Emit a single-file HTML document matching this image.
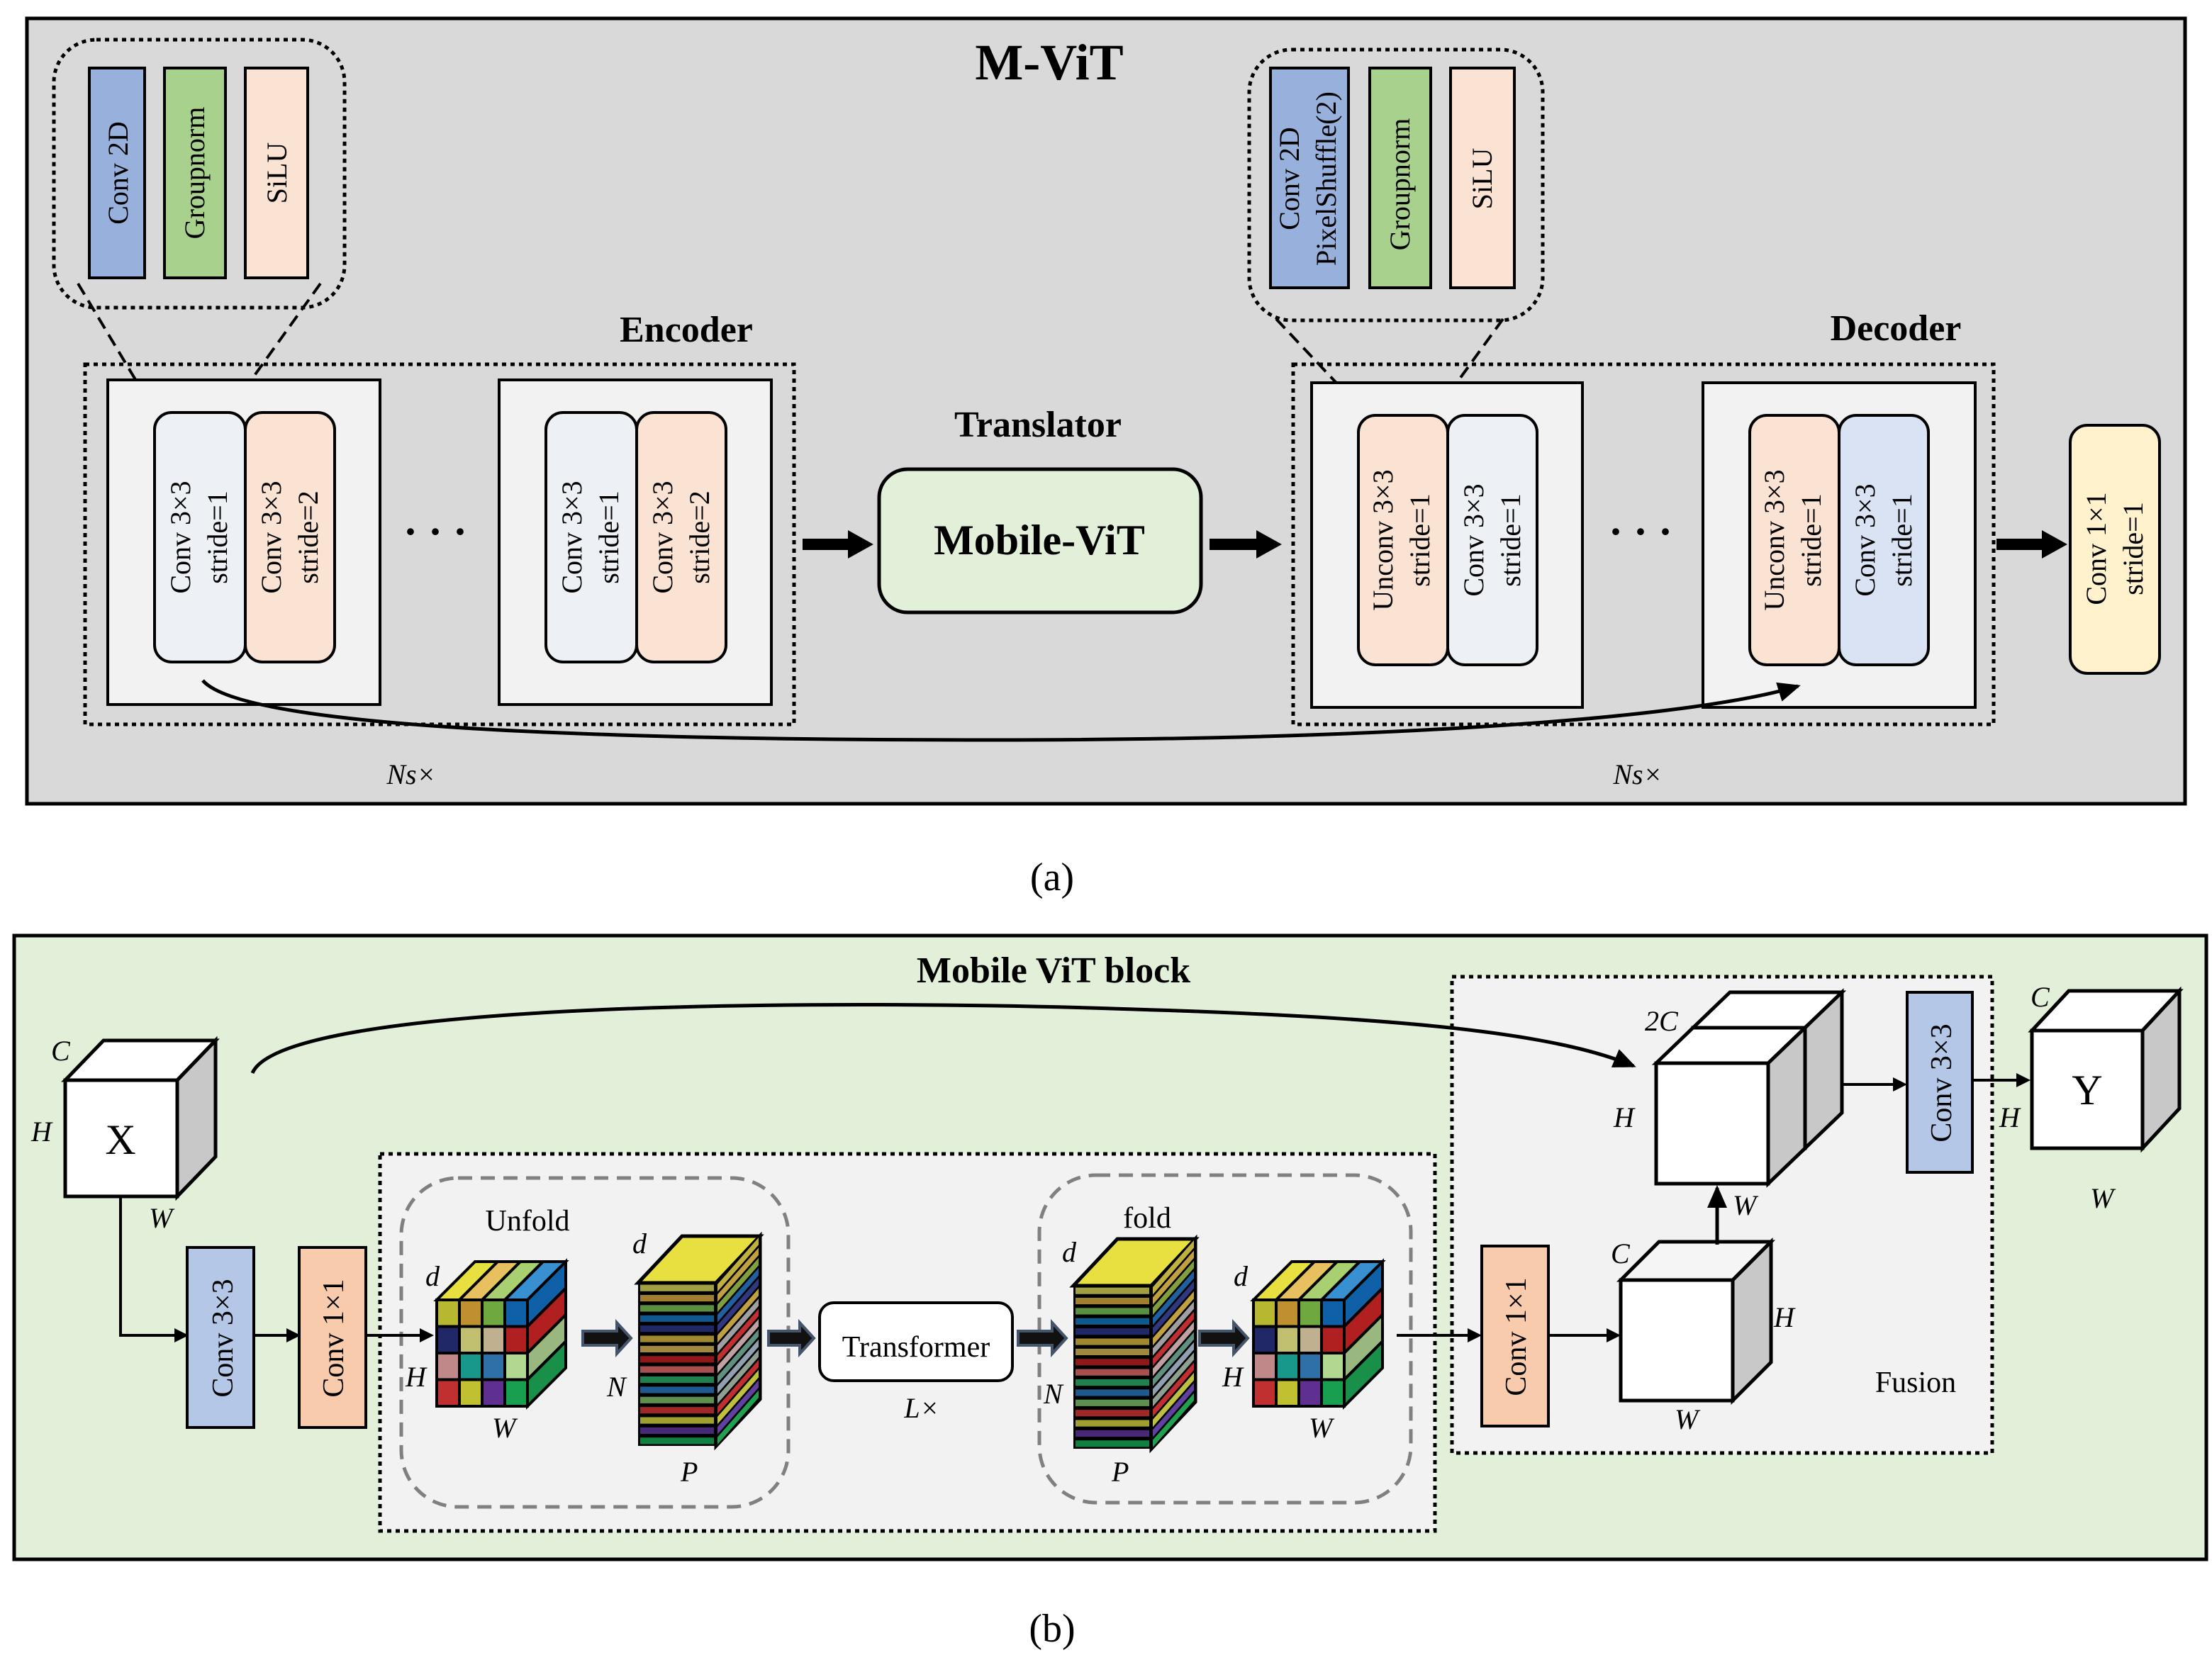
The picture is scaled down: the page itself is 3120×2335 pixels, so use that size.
<!DOCTYPE html>
<html><head><meta charset="utf-8"><style>
html,body{margin:0;padding:0;background:#fff}
svg{display:block}
text{font-family:"Liberation Serif",serif;fill:#000}
.b{font-weight:bold}
.i{font-style:italic}
</style></head><body>
<svg id="s" width="3120" height="2335" viewBox="0 0 1560 1167.5" xmlns="http://www.w3.org/2000/svg">
<defs>
<marker id="ah" markerWidth="10" markerHeight="10" refX="8" refY="5" orient="auto" markerUnits="userSpaceOnUse"><path d="M0,0 L10,5 L0,10 z" fill="#000"/></marker>
<marker id="ah2" markerWidth="16" markerHeight="14" refX="14" refY="7" orient="auto" markerUnits="userSpaceOnUse"><path d="M0,0 L16,7 L0,14 z" fill="#000"/></marker>
</defs>
<!-- (a) -->
<rect x="19" y="13" width="1522" height="554" fill="#d9d9d9" stroke="#000" stroke-width="2.5"/>
<text x="740" y="56" font-size="36" class="b" text-anchor="middle">M-ViT</text>
<rect x="38" y="28" width="205" height="189" rx="30" fill="none" stroke="#000" stroke-width="2.5" stroke-dasharray="3,3"/>
<rect x="63" y="48" width="39" height="148" fill="#98b0dc" stroke="#000" stroke-width="2"/>
<rect x="116" y="48" width="43" height="148" fill="#a9d18e" stroke="#000" stroke-width="2"/>
<rect x="173" y="48" width="44" height="148" fill="#fbe3d4" stroke="#000" stroke-width="2"/>
<text transform="translate(90,122) rotate(-90)" font-size="20" text-anchor="middle">Conv 2D</text>
<text transform="translate(144,122) rotate(-90)" font-size="20" text-anchor="middle">Groupnorm</text>
<text transform="translate(202,122) rotate(-90)" font-size="20" text-anchor="middle">SiLU</text>
<line x1="55" y1="200" x2="110" y2="292" stroke="#000" stroke-width="2" stroke-dasharray="9,5"/>
<line x1="226" y1="200" x2="160" y2="292" stroke="#000" stroke-width="2" stroke-dasharray="9,5"/>

<text x="484" y="241" font-size="26" class="b" text-anchor="middle">Encoder</text>
<rect x="60" y="257" width="500" height="254" fill="none" stroke="#000" stroke-width="2.5" stroke-dasharray="3,3"/>
<rect x="76" y="268" width="192" height="229" fill="#f2f2f2" stroke="#000" stroke-width="2"/>
<rect x="352" y="268" width="192" height="229" fill="#f2f2f2" stroke="#000" stroke-width="2"/>
<g stroke="#000" stroke-width="2">
<rect x="109" y="291" width="64" height="176" rx="12" fill="#edf0f5"/>
<rect x="173" y="291" width="63" height="176" rx="12" fill="#fbe3d4"/>
<rect x="385" y="291" width="64" height="176" rx="12" fill="#edf0f5"/>
<rect x="449" y="291" width="63" height="176" rx="12" fill="#fbe3d4"/>
</g>
<g font-size="20" text-anchor="middle">
<text transform="translate(134,379) rotate(-90)">Conv 3×3</text><text transform="translate(160,379) rotate(-90)">stride=1</text>
<text transform="translate(198,379) rotate(-90)">Conv 3×3</text><text transform="translate(224,379) rotate(-90)">stride=2</text>
<text transform="translate(410,379) rotate(-90)">Conv 3×3</text><text transform="translate(436,379) rotate(-90)">stride=1</text>
<text transform="translate(474,379) rotate(-90)">Conv 3×3</text><text transform="translate(500,379) rotate(-90)">stride=2</text>
</g>
<text x="307" y="385" font-size="30" class="b" text-anchor="middle">· · ·</text>
<line x1="566" y1="384" x2="600" y2="384" stroke="#000" stroke-width="8"/><path d="M598,374 L616,384 L598,394z"/>
<text x="732" y="308" font-size="26" class="b" text-anchor="middle">Translator</text>
<rect x="620" y="331" width="227" height="101" rx="20" fill="#e2efd9" stroke="#000" stroke-width="2.5"/>
<text x="733" y="391" font-size="30" class="b" text-anchor="middle">Mobile-ViT</text>
<line x1="853" y1="384" x2="888" y2="384" stroke="#000" stroke-width="8"/><path d="M886,374 L904,384 L886,394z"/>

<text x="1337" y="240" font-size="26" class="b" text-anchor="middle">Decoder</text>
<rect x="912" y="257" width="494" height="254" fill="none" stroke="#000" stroke-width="2.5" stroke-dasharray="3,3"/>
<rect x="881" y="35" width="207" height="191" rx="30" fill="none" stroke="#000" stroke-width="2.5" stroke-dasharray="3,3"/>
<rect x="896" y="48" width="55" height="155" fill="#98b0dc" stroke="#000" stroke-width="2"/>
<rect x="966" y="48" width="43" height="155" fill="#a9d18e" stroke="#000" stroke-width="2"/>
<rect x="1023" y="48" width="45" height="155" fill="#fbe3d4" stroke="#000" stroke-width="2"/>
<text transform="translate(916,126) rotate(-90)" font-size="20" text-anchor="middle">Conv 2D</text>
<text transform="translate(942,126) rotate(-90)" font-size="20" text-anchor="middle">PixelShuffle(2)</text>
<text transform="translate(994,130) rotate(-90)" font-size="20" text-anchor="middle">Groupnorm</text>
<text transform="translate(1052,126) rotate(-90)" font-size="20" text-anchor="middle">SiLU</text>
<line x1="900" y1="225" x2="965" y2="294" stroke="#000" stroke-width="2" stroke-dasharray="9,5"/>
<line x1="1060" y1="225" x2="1010" y2="294" stroke="#000" stroke-width="2" stroke-dasharray="9,5"/>
<rect x="925" y="270" width="191" height="229" fill="#f2f2f2" stroke="#000" stroke-width="2"/>
<rect x="1201" y="270" width="192" height="229" fill="#f2f2f2" stroke="#000" stroke-width="2"/>
<g stroke="#000" stroke-width="2">
<rect x="1021" y="293" width="63" height="176" rx="12" fill="#edf0f5"/>
<rect x="958" y="293" width="63" height="176" rx="12" fill="#fbe3d4"/>
<rect x="1297" y="293" width="63" height="176" rx="12" fill="#dae3f3"/>
<rect x="1234" y="293" width="63" height="176" rx="12" fill="#fbe3d4"/>
</g>
<g font-size="20" text-anchor="middle">
<text transform="translate(982,381) rotate(-90)">Unconv 3×3</text><text transform="translate(1008,381) rotate(-90)">stride=1</text>
<text transform="translate(1046,381) rotate(-90)">Conv 3×3</text><text transform="translate(1072,381) rotate(-90)">stride=1</text>
<text transform="translate(1258,381) rotate(-90)">Unconv 3×3</text><text transform="translate(1284,381) rotate(-90)">stride=1</text>
<text transform="translate(1322,381) rotate(-90)">Conv 3×3</text><text transform="translate(1348,381) rotate(-90)">stride=1</text>
</g>
<text x="1157" y="385" font-size="30" class="b" text-anchor="middle">· · ·</text>
<line x1="1408" y1="384" x2="1442" y2="384" stroke="#000" stroke-width="8"/><path d="M1440,374 L1458,384 L1440,394z"/>
<rect x="1460" y="300" width="63" height="175" rx="12" fill="#fff2cc" stroke="#000" stroke-width="2"/>
<text transform="translate(1485,387) rotate(-90)" font-size="20" text-anchor="middle">Conv 1×1</text>
<text transform="translate(1511,387) rotate(-90)" font-size="20" text-anchor="middle">stride=1</text>
<path d="M143,480 C170,512 400,522 700,522 C1000,522 1200,505 1268,484" fill="none" stroke="#000" stroke-width="2.5" marker-end="url(#ah2)"/>
<text x="290" y="553" font-size="20" class="i" text-anchor="middle">Ns×</text>
<text x="1155" y="553" font-size="20" class="i" text-anchor="middle">Ns×</text>
<text x="742" y="628" font-size="28" text-anchor="middle">(a)</text>

<!-- (b) -->
<rect x="10" y="660" width="1546" height="440" fill="#e2efd9" stroke="#000" stroke-width="2.5"/>
<text x="743" y="693" font-size="26" class="b" text-anchor="middle">Mobile ViT block</text>
<rect x="268" y="814" width="744" height="266" fill="#f2f2f2" stroke="#000" stroke-width="2.5" stroke-dasharray="3,3"/>
<rect x="1024" y="689" width="381" height="336" fill="#f2f2f2" stroke="#000" stroke-width="2.5" stroke-dasharray="3,3"/>
<rect x="283" y="831" width="273" height="232" rx="40" fill="none" stroke="#808080" stroke-width="2.5" stroke-dasharray="10,6"/>
<rect x="733" y="829" width="262" height="231" rx="40" fill="none" stroke="#808080" stroke-width="2.5" stroke-dasharray="10,6"/>
<g id="cubes"></g>
<!-- X cube -->
<text x="36" y="748" font-size="20" class="i">C</text>
<text x="22" y="805" font-size="20" class="i">H</text>
<text x="105" y="866" font-size="20" class="i">W</text>
<path d="M178,757 C200,705 600,705 800,712 C1000,718 1100,730 1152,752" fill="none" stroke="#000" stroke-width="2.5" marker-end="url(#ah2)"/>
<polyline points="85,844 85,942 131,942" fill="none" stroke="#000" stroke-width="2" marker-end="url(#ah)"/>
<rect x="132" y="880" width="47" height="127" fill="#b4c7e7" stroke="#000" stroke-width="2"/>
<text transform="translate(164,944) rotate(-90)" font-size="21" text-anchor="middle">Conv 3×3</text>
<line x1="179" y1="942" x2="210" y2="942" stroke="#000" stroke-width="2" marker-end="url(#ah)"/>
<rect x="211" y="880" width="47" height="127" fill="#f8cbad" stroke="#000" stroke-width="2"/>
<text transform="translate(242,944) rotate(-90)" font-size="21" text-anchor="middle">Conv 1×1</text>
<line x1="258" y1="942" x2="304" y2="942" stroke="#000" stroke-width="2" marker-end="url(#ah)"/>
<text x="372" y="868" font-size="21" text-anchor="middle">Unfold</text>
<text x="809" y="866" font-size="21" text-anchor="middle">fold</text>
<text x="300" y="907" font-size="20" class="i">d</text>
<text x="286" y="978" font-size="20" class="i">H</text>
<text x="347" y="1014" font-size="20" class="i">W</text>
<text x="446" y="884" font-size="20" class="i">d</text>
<text x="428" y="985" font-size="20" class="i">N</text>
<text x="480" y="1045" font-size="20" class="i">P</text>
<text x="749" y="890" font-size="20" class="i">d</text>
<text x="736" y="990" font-size="20" class="i">N</text>
<text x="784" y="1045" font-size="20" class="i">P</text>
<text x="870" y="907" font-size="20" class="i">d</text>
<text x="862" y="978" font-size="20" class="i">H</text>
<text x="923" y="1014" font-size="20" class="i">W</text>
<rect x="578" y="919" width="136" height="55" rx="10" fill="#fff" stroke="#000" stroke-width="2"/>
<text x="646" y="957" font-size="21" text-anchor="middle">Transformer</text>
<text x="650" y="1000" font-size="20" class="i" text-anchor="middle">L×</text>
<line x1="985" y1="942" x2="1043" y2="942" stroke="#000" stroke-width="2" marker-end="url(#ah)"/>
<rect x="1045" y="879" width="47" height="127" fill="#f8cbad" stroke="#000" stroke-width="2"/>
<text transform="translate(1076,943) rotate(-90)" font-size="21" text-anchor="middle">Conv 1×1</text>
<line x1="1092" y1="942" x2="1141" y2="942" stroke="#000" stroke-width="2" marker-end="url(#ah)"/>
<line x1="1299" y1="765" x2="1343" y2="765" stroke="#000" stroke-width="2" marker-end="url(#ah)"/>
<rect x="1345" y="700" width="46" height="127" fill="#b4c7e7" stroke="#000" stroke-width="2"/>
<text transform="translate(1376,764) rotate(-90)" font-size="21" text-anchor="middle">Conv 3×3</text>
<line x1="1391" y1="762" x2="1430" y2="762" stroke="#000" stroke-width="2" marker-end="url(#ah)"/>
<text x="1160" y="727" font-size="20" class="i">2C</text>
<text x="1138" y="795" font-size="20" class="i">H</text>
<text x="1222" y="857" font-size="20" class="i">W</text>
<text x="1136" y="891" font-size="20" class="i">C</text>
<text x="1251" y="936" font-size="20" class="i">H</text>
<text x="1181" y="1008" font-size="20" class="i">W</text>
<text x="1351" y="982" font-size="21" text-anchor="middle">Fusion</text>
<text x="1432" y="710" font-size="20" class="i">C</text>
<text x="1410" y="795" font-size="20" class="i">H</text>
<text x="1474" y="852" font-size="20" class="i">W</text>
<text x="742" y="1158" font-size="28" text-anchor="middle">(b)</text>
<g id="top"></g>
</svg>
<script>
var NS="http://www.w3.org/2000/svg",g=document.getElementById('cubes');
function el(t,a,p){var e=document.createElementNS(NS,t);for(var k in a)e.setAttribute(k,a[k]);(p||g).appendChild(e);return e;}
function box(x,y,w,h,dx,dy,front,top,side){
 el('polygon',{points:[x,y,x+dx,y-dy,x+w+dx,y-dy,x+w,y].join(' '),fill:top,stroke:'#000','stroke-width':2.5});
 el('polygon',{points:[x+w,y,x+w+dx,y-dy,x+w+dx,y+h-dy,x+w,y+h].join(' '),fill:side,stroke:'#000','stroke-width':2.5});
 el('rect',{x:x,y:y,width:w,height:h,fill:front,stroke:'#000','stroke-width':2.5});
}
// white cubes
box(46,762,79,82,27,28,'#fff','#fff','#c8c8c8');
box(1194,725,79,85,26,25,'#fff','#fff','#c8c8c8');
box(1168,750,79,85,26,25,'#fff','#fff','#c8c8c8');
box(1143,903,79,85,27,27,'#fff','#f5f5f5','#c8c8c8');
box(1433,727,78,83,26,28,'#fff','#fff','#c8c8c8');
var tp=document.getElementById('top');
el('line',{x1:1211,y1:878,x2:1211,y2:838,stroke:'#000','stroke-width':2.5,'marker-end':'url(#ah2)'},tp);
var t1=el('text',{x:85,y:814,'font-size':30,'text-anchor':'middle'},tp);t1.textContent='X';
var t2=el('text',{x:1472,y:779,'font-size':30,'text-anchor':'middle'},tp);t2.textContent='Y';
// colorful cubes
var grid=[['#b8b830','#c09030','#70a840','#1060a8'],['#202868','#c0c070','#c0b090','#b02020'],['#c08888','#18988a','#3070a8','#b0d890'],['#c03030','#c0c030','#603090','#18a050']];
var topc=['#e8e040','#e8c060','#a8d070','#3890d0'],sidec=['#1060a8','#b02020','#98b880','#18904a'];
function ccube(x,y,w,h,dx,dy){
 var cw=w/4,ch=h/4;
 for(var i=0;i<4;i++){el('polygon',{points:[x+i*cw,y,x+i*cw+dx,y-dy,x+(i+1)*cw+dx,y-dy,x+(i+1)*cw,y].join(' '),fill:topc[i],stroke:'#000','stroke-width':2});}
 for(var j=0;j<4;j++){el('polygon',{points:[x+w,y+j*ch,x+w+dx,y+j*ch-dy,x+w+dx,y+(j+1)*ch-dy,x+w,y+(j+1)*ch].join(' '),fill:sidec[j],stroke:'#000','stroke-width':2});}
 for(var j=0;j<4;j++)for(var i=0;i<4;i++)el('rect',{x:x+i*cw,y:y+j*ch,width:cw,height:ch,fill:grid[j][i],stroke:'#000','stroke-width':2});
}
ccube(308,917,64,75,27,27);
ccube(884,917,64,75,27,27);
var sc=['#a0a040','#a08030','#589040','#105890','#202868','#a08830','#a08840','#901818','#a85050','#208050','#205890','#609050','#a02828','#a0a030','#482878','#108040'];
var sidex=['#c0b040','#c0a040','#80a040','#2060a0','#303880','#c0a040','#a0a0a0','#c03030','#c0a0a0','#609080','#90a0b0','#90a090','#c03030','#c0c040','#6040a0','#20a050'];
function stack(x,y,w,h,dx,dy){
 el('polygon',{points:[x,y,x+dx,y-dy,x+w+dx,y-dy,x+w,y].join(' '),fill:'#e8e040',stroke:'#000','stroke-width':2.5});
 var n=16,sh=h/n;
 el('polygon',{points:[x+w,y,x+w+dx,y-dy,x+w+dx,y+h-dy,x+w,y+h].join(' '),fill:'#000',stroke:'#000','stroke-width':2.5});
 el('rect',{x:x,y:y,width:w,height:h,fill:'#000'});
 for(var k=0;k<n;k++){
  el('rect',{x:x+1.5,y:y+k*sh+1.3,width:w-3,height:sh-2.6,fill:sc[k]});
  var y0=y+k*sh+1,y1=y+(k+1)*sh-1;
  el('polygon',{points:[x+w+1,y0,x+w+dx-1,y0-dy,x+w+dx-1,y1-dy,x+w+1,y1].join(' '),fill:sidex[k]});
 }
}
stack(450,905,55,115,31,33);
stack(757,907,55,115,31,33);
function sarrow(x1,x2,y){
 el('path',{d:'M'+x1+','+(y-5)+' L'+(x2-10)+','+(y-5)+' L'+(x2-10)+','+(y-11)+' L'+x2+','+y+' L'+(x2-10)+','+(y+11)+' L'+(x2-10)+','+(y+5)+' L'+x1+','+(y+5)+'z',fill:'#111',stroke:'#44546a','stroke-width':2});
}
sarrow(411,445,944);sarrow(542,574,944);sarrow(718,752,944);sarrow(846,880,944);
</script>
</body></html>
